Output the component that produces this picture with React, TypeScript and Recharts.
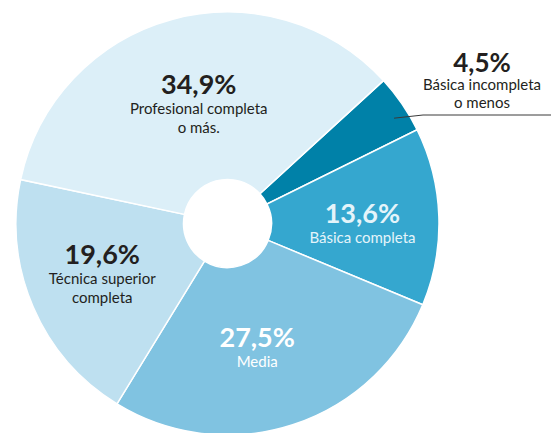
import { Pie, PieChart, Cell } from 'recharts';

// Distribución por nivel educacional (orden horario desde el corte superior derecho)
const categories = ['Básica incompleta o menos', 'Básica completa', 'Media', 'Técnica superior completa', 'Profesional completa o más.'];
const values = [4.5, 13.6, 27.5, 19.6, 34.9];
const valueLabels = ['4,5%', '13,6%', '27,5%', '19,6%', '34,9%'];
const labelLines = [['Básica incompleta', 'o menos'], ['Básica completa'], ['Media'], ['Técnica superior', 'completa'], ['Profesional completa', 'o más.']];

const COLORS = ['#0081A8', '#35A7CF', '#80C3E1', '#BEE0F0', '#DCEFF8'];
const TEXT = ['#231F20', '#E4F4FA', '#FFFFFF', '#231F20', '#231F20'];
const FONT = 'Lato, "Noto Sans", sans-serif';
const RAD = Math.PI / 180;

const data = categories.map((name, i) => ({ name, value: values[i] }));

// pequeños ajustes de posición del texto respecto al punto medio del sector
const NUDGE: Record<number, [number, number]> = {
  1: [3, 4],
  2: [-11, -2],
  3: [-4, -12],
  4: [6, -2],
};

function renderLabel(props: any) {
  const { cx, cy, midAngle, index } = props;
  const cos = Math.cos(-midAngle * RAD);
  const sin = Math.sin(-midAngle * RAD);

  if (index === 0) {
    // etiqueta exterior con línea guía
    const r = 197;
    const sx = cx + r * cos + 4;
    const sy = cy + r * sin + 6;
    const ex = 423;
    const ey = 115;
    const tx = 482;
    return (
      <g>
        <polyline points={`${sx},${sy} ${ex},${ey} 551,${ey}`} fill="none" stroke="#3a3a3a" strokeWidth={1} />
        <text x={tx} y={72} textAnchor="middle" fill={TEXT[0]} fontFamily={FONT} fontWeight={700} fontSize={26}>
          {valueLabels[0]}
        </text>
        {labelLines[0].map((l, j) => (
          <text key={j} x={tx} y={90 + j * 17.5} textAnchor="middle" fill={TEXT[0]} fontFamily={FONT} fontSize={15}>
            {l}
          </text>
        ))}
      </g>
    );
  }

  const [nx, ny] = NUDGE[index] ?? [0, 0];
  const x = cx + 132 * cos + nx;
  const y = cy + 132 * sin + ny;
  return (
    <g>
      <text x={x} y={y} textAnchor="middle" fill={TEXT[index]} fontFamily={FONT} fontWeight={700} fontSize={27}>
        {valueLabels[index]}
      </text>
      {labelLines[index].map((l, j) => (
        <text key={j} x={x} y={y + 20 + j * 19} textAnchor="middle" fill={TEXT[index]} fontFamily={FONT} fontSize={15}>
          {l}
        </text>
      ))}
    </g>
  );
}

export default function App() {
  return (
    <div style={{ position: 'fixed', left: 0, top: 0, width: 551, height: 433, background: '#fff' }}>
      <PieChart width={551} height={433} margin={{ top: 0, right: 0, bottom: 0, left: 0 }}>
        <Pie
          data={data}
          dataKey="value"
          nameKey="name"
          cx={227.5}
          cy={223.5}
          innerRadius={44}
          outerRadius={211.5}
          startAngle={42.5}
          endAngle={-317.5}
          stroke="#ffffff"
          strokeWidth={1.5}
          label={renderLabel}
          labelLine={false}
          isAnimationActive={false}
        >
          {data.map((d, i) => (
            <Cell key={d.name} fill={COLORS[i]} />
          ))}
        </Pie>
      </PieChart>
    </div>
  );
}
